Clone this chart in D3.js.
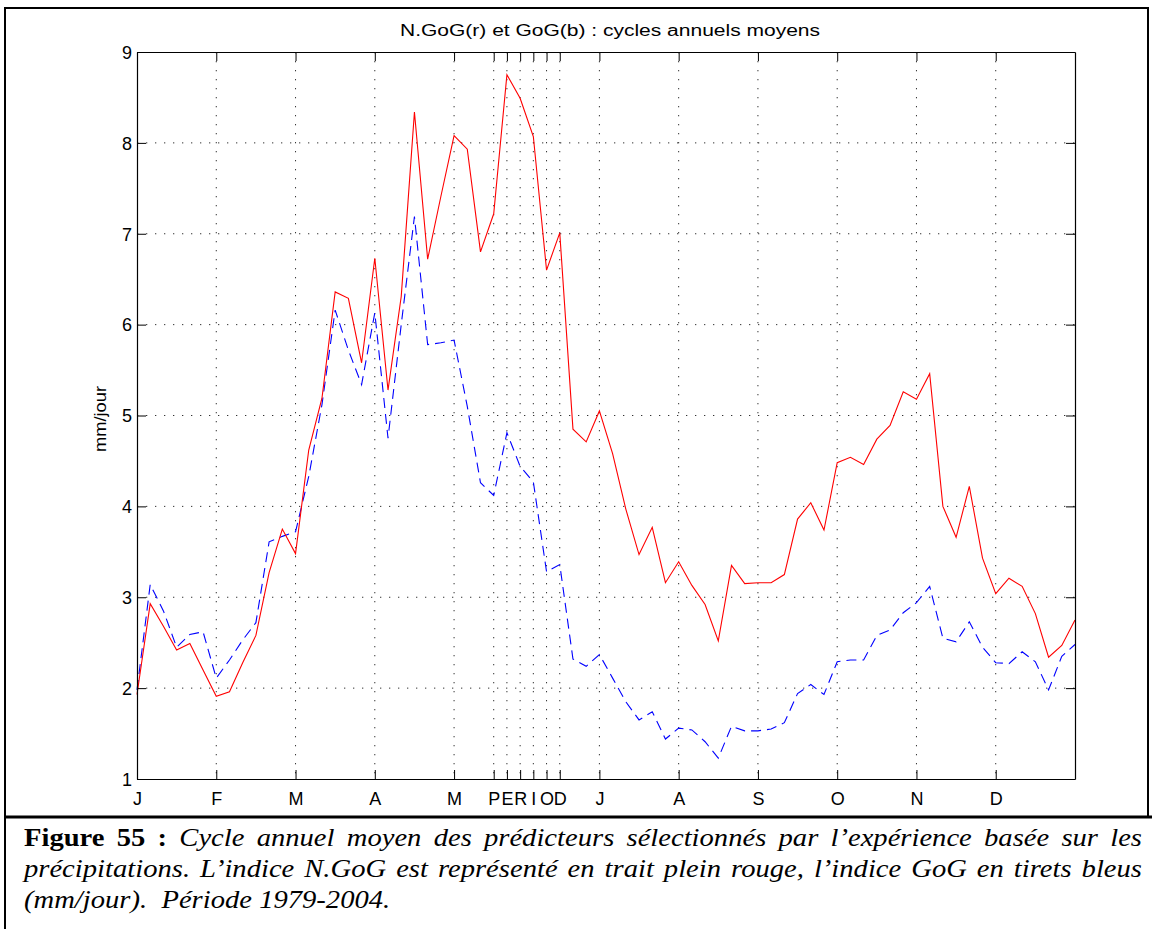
<!DOCTYPE html>
<html><head><meta charset="utf-8">
<script src="https://cdn.jsdelivr.net/npm/d3@7"></script>
<style>body{margin:0;background:#fff}svg{display:block}</style>
</head><body>
<script>
// ---- data ----
const pentads = d3.range(1, 73);
const nGoG = [1.93,2.93,2.68,2.42,2.49,2.2,1.91,1.96,2.28,2.58,3.27,3.75,3.48,4.62,5.19,6.36,6.29,5.58,6.73,5.28,
  6.31,8.34,6.72,7.41,8.08,7.93,6.8,7.22,8.75,8.49,8.07,6.6,7.01,4.85,4.71,5.05,4.58,3.97,3.47,3.77,
  3.16,3.39,3.13,2.92,2.52,3.35,3.15,3.16,3.16,3.25,3.86,4.04,3.74,4.48,4.54,4.46,4.74,4.89,5.26,5.18,
  5.46,4.0,3.66,4.22,3.43,3.04,3.21,3.12,2.82,2.34,2.47,2.75];
const GoG = [1.98,3.14,2.85,2.45,2.59,2.62,2.11,2.31,2.53,2.72,3.61,3.67,3.72,4.33,5.12,6.16,5.72,5.34,6.13,4.75,
  6.0,7.19,5.78,5.8,5.83,5.1,4.26,4.12,4.81,4.44,4.27,3.28,3.36,2.32,2.24,2.37,2.11,1.85,1.65,1.74,
  1.44,1.56,1.54,1.41,1.23,1.58,1.53,1.53,1.55,1.62,1.94,2.04,1.93,2.29,2.31,2.31,2.58,2.64,2.83,2.94,
  3.12,2.55,2.51,2.73,2.45,2.28,2.27,2.4,2.29,1.98,2.35,2.48];
const tickPos = [1,7,13,19,25,28,29,30,31,32,33,36,42,48,54,60,66];
const tickLabels = ["J","F","M","A","M","P","E","R","I","O","D","J","A","S","O","N","D"];
const yTicks = [1,2,3,4,5,6,7,8,9];
const title = "N.GoG(r) et GoG(b) : cycles annuels moyens";
const yLabel = "mm/jour";

// ---- layout ----
const W = 1152, H = 929;
const L = 137, R = 1075, T = 52, B = 779;
const svg = d3.select("body").append("svg").attr("width", W).attr("height", H);

const x = d3.scaleLinear().domain([1, 72]).range([L, R]);
const y = d3.scaleLinear().domain([1, 9]).range([B, T]);

const font = "'Liberation Sans', Arial, Helvetica, sans-serif";

// grid
const grid = svg.append("g");
grid.selectAll("line.vg").data(tickPos.filter(p => p > 1 && p < 72)).join("line")
  .attr("x1", d => x(d)).attr("x2", d => x(d)).attr("y1", T).attr("y2", B)
  .attr("stroke", "#333").attr("stroke-width", 1).attr("stroke-dasharray", "1.3,7.7");
grid.selectAll("line.hg").data(yTicks.filter(v => v > 1 && v < 9)).join("line")
  .attr("x1", L).attr("x2", R).attr("y1", d => y(d)).attr("y2", d => y(d))
  .attr("stroke", "#333").attr("stroke-width", 1).attr("stroke-dasharray", "1.3,7.7");

// lines
const line = d3.line().x((d, i) => x(pentads[i])).y(d => y(d));
svg.append("path").datum(GoG).attr("d", line).attr("fill", "none")
  .attr("stroke", "#0000ff").attr("stroke-width", 1.1).attr("stroke-dasharray", "10,6");
svg.append("path").datum(nGoG).attr("d", line).attr("fill", "none")
  .attr("stroke", "#ff0000").attr("stroke-width", 1.1);

// axes
const tickLen = 9;
const xb = svg.append("g").attr("transform", `translate(0,${B})`)
  .call(d3.axisBottom(x).tickValues(tickPos).tickFormat((d, i) => tickLabels[i]).tickSizeInner(-tickLen).tickSizeOuter(0).tickPadding(16));
const xt = svg.append("g").attr("transform", `translate(0,${T})`)
  .call(d3.axisTop(x).tickValues(tickPos).tickFormat("").tickSizeInner(-tickLen).tickSizeOuter(0));
const yl = svg.append("g").attr("transform", `translate(${L},0)`)
  .call(d3.axisLeft(y).tickValues(yTicks).tickFormat(d3.format("d")).tickSizeInner(-tickLen).tickSizeOuter(0).tickPadding(5));
const yr = svg.append("g").attr("transform", `translate(${R},0)`)
  .call(d3.axisRight(y).tickValues(yTicks).tickFormat("").tickSizeInner(-tickLen).tickSizeOuter(0));
[xb, xt, yl, yr].forEach(g => {
  g.selectAll("path.domain").attr("stroke", "#000").attr("stroke-width", 1.2);
  g.selectAll(".tick line").attr("stroke", "#000").attr("stroke-width", 1);
  g.selectAll("text").attr("font-family", font).attr("font-size", 18).attr("fill", "#000");
});
xb.selectAll("text").attr("dy", "0.55em");
yl.selectAll("text").attr("dy", "0.35em");

// title and y label
svg.append("text").attr("x", (L + R) / 2 + 4).attr("y", 36).attr("text-anchor", "middle")
  .attr("font-family", font).attr("font-size", 16)
  .attr("textLength", 420).attr("lengthAdjust", "spacingAndGlyphs").text(title);
svg.append("text").attr("transform", `translate(106,419) rotate(-90)`)
  .attr("text-anchor", "middle").attr("font-family", font).attr("font-size", 16)
  .attr("textLength", 66).attr("lengthAdjust", "spacingAndGlyphs").text(yLabel);

// frame
const fr = svg.append("g").attr("stroke", "#000");
fr.append("line").attr("x1", 4).attr("x2", 1149).attr("y1", 8).attr("y2", 8).attr("stroke-width", 2);
fr.append("line").attr("x1", 5).attr("x2", 5).attr("y1", 7).attr("y2", 929).attr("stroke-width", 2);
fr.append("line").attr("x1", 1148).attr("x2", 1148).attr("y1", 7).attr("y2", 817).attr("stroke-width", 2);
fr.append("line").attr("x1", 4).attr("x2", 1152).attr("y1", 817).attr("y2", 817).attr("stroke-width", 3);

// caption (justified word placement)
const cf = "'Liberation Serif', 'Times New Roman', serif";
const capLines = [
  {bold: "Figure 55 :", text: "Cycle annuel moyen des prédicteurs sélectionnés par l’expérience basée sur les", justify: true},
  {bold: "", text: "précipitations. L’indice N.GoG est représenté en trait plein rouge, l’indice GoG en tirets bleus", justify: true},
  {bold: "", text: "(mm/jour).  Période 1979-2004.", justify: false}
];
const capX0 = 24, capX1 = 1142, stretch = 1.1, capSize = 26;
capLines.forEach((ln, i) => {
  const yb = 846 + i * 31;
  const g = svg.append("g").attr("font-family", cf).attr("font-size", capSize);
  const words = [];
  if (ln.bold) ln.bold.split(" ").forEach(w => words.push({w, b: true}));
  ln.text.split(/ +/).forEach(w => words.push({w, b: false}));
  const els = words.map(o => {
    const t = g.append("text").attr("y", yb).attr("font-weight", o.b ? "bold" : "normal")
      .attr("font-style", o.b ? "normal" : "italic").text(o.w);
    const nat = t.node().getComputedTextLength();
    t.attr("textLength", nat * stretch).attr("lengthAdjust", "spacingAndGlyphs");
    return {t, w: nat * stretch};
  });
  const total = d3.sum(els, e => e.w);
  const spaceW = capSize * 0.25 * stretch;
  const gap = ln.justify ? (capX1 - capX0 - total) / (els.length - 1) : spaceW;
  let cx = capX0;
  els.forEach((e, k) => {
    e.t.attr("x", cx);
    cx += e.w + gap + (!ln.justify && words[k].w === "(mm/jour)." ? spaceW : 0);
  });
});
</script>
</body></html>
